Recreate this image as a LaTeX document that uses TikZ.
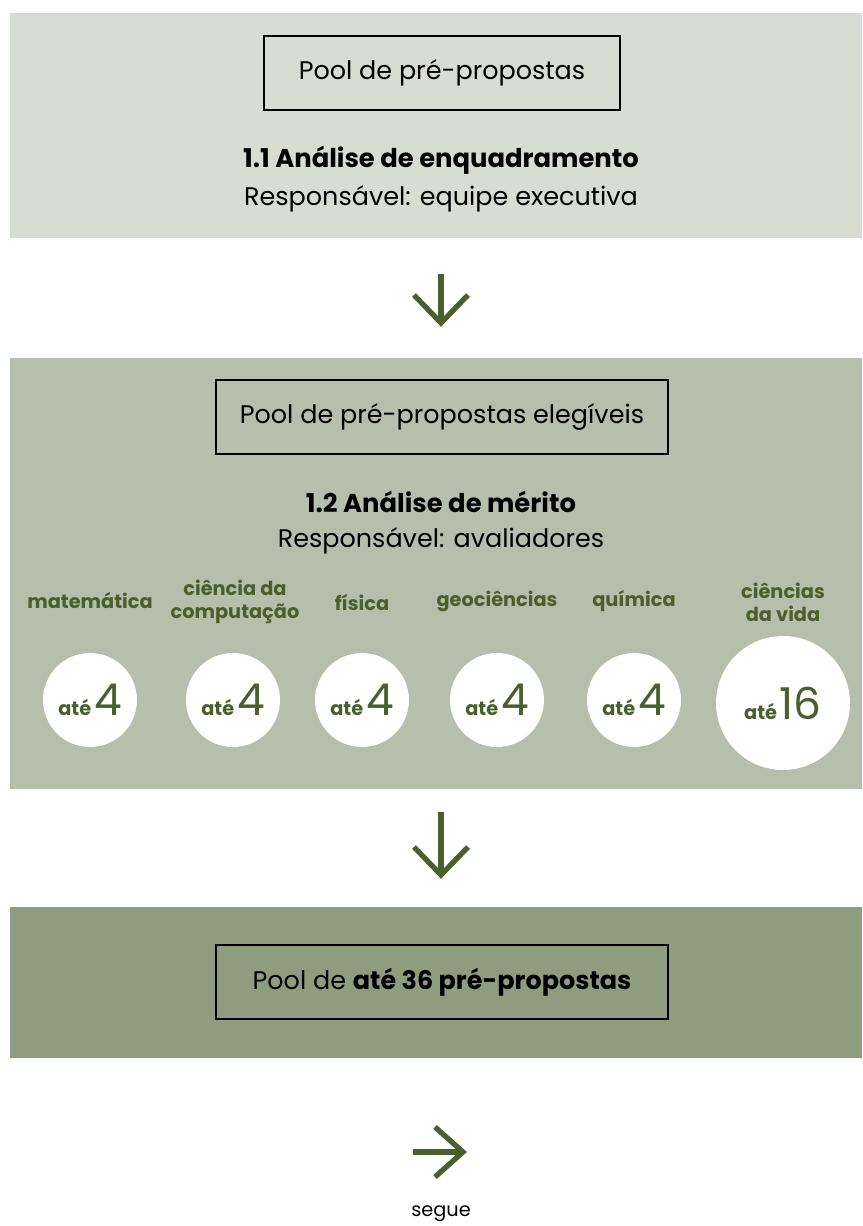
\documentclass[tikz,border=0pt]{standalone}
\usepackage{fontspec}
\setmainfont{Poppins}
\usetikzlibrary{calc}

\definecolor{faseA}{HTML}{D8DDD4}
\definecolor{faseB}{HTML}{B5BFAC}
\definecolor{faseC}{HTML}{8E9C80}
\definecolor{verde}{HTML}{4A5F2B}

\tikzset{
  pool/.style={draw, line width=1.1pt, inner sep=0pt, minimum height=1.49cm, font=\fontsize{14.5}{17}\selectfont},
  seta/.style={verde, line width=3pt, line join=miter},
  area/.style={verde, align=center, font=\fontsize{11}{13}\selectfont\bfseries},
  vaga/.style={circle, fill=white, inner sep=0pt, minimum size=1.88cm},
}

\newcommand{\ate}[1]{{\fontsize{11}{12}\selectfont\bfseries até}\,{\fontsize{25}{25}\selectfont #1}}

\begin{document}
\begin{tikzpicture}[x=0.02cm, y=-0.02cm]
			\useasboundingbox (0,0) rectangle (862,1226);

			% fases
			\fill[faseA] (10,13) rectangle (862,238);
			\fill[faseB] (10,358) rectangle (862,789);
			\fill[faseC] (10,907) rectangle (862,1058);

			\node[pool, minimum width=7.12cm] (p1) at (442,73) {Pool de pré-propostas};
			\node[font=\fontsize{14.7}{17}\selectfont\bfseries] (t1) at (441,160) {1.1 Análise de enquadramento};
			\node[font=\fontsize{14.5}{17}\selectfont] (r1) at (441,199) {Responsável: equipe executiva};

			\node[pool, minimum width=9.04cm] (p2) at (442,417) {Pool de pré-propostas elegíveis};
			\node[font=\fontsize{14.7}{17}\selectfont\bfseries] (t2) at (441,502) {1.2 Análise de mérito};
			\node[font=\fontsize{14.5}{17}\selectfont] (r2) at (441,541) {Responsável: avaliadores};

			\begin{scope}[every node/.style={area}]
				\node (m) at (90,601) {matemática};
				\node (cc) at (235,602) {ciência da\\computação};
				\node (f) at (362,603) {física};
				\node (g) at (497,601) {geociências};
				\node (q) at (634,601) {química};
				\node (cv) at (783,602) {ciências\\da vida};
			\end{scope}

			\begin{scope}[every node/.style={vaga, text=verde}]
				\node (vm) at (90,700) {\ate{4}};
				\node (vcc) at (233,700) {\ate{4}};
				\node (vf) at (362,700) {\ate{4}};
				\node (vg) at (497,700) {\ate{4}};
				\node (vq) at (634,700) {\ate{4}};
				\node[minimum size=2.68cm] (vcv) at (783,703) {\ate{16}};
			\end{scope}

			\node[pool, minimum width=9.04cm] (p3) at (442,982) {Pool de \textbf{até 36 pré-propostas}};

			% setas
			\coordinate (a1) at (441,274);
			\coordinate (b1) at (441,323);
			\coordinate (a2) at (441,812);
			\coordinate (b2) at (441,875);
			\coordinate (a3) at (413,1152);
			\coordinate (b3) at (463,1152);
			\draw[seta] (a1) -- (b1);
			\draw[seta] ($(b1)+(-27,-28)$) -- (b1) -- ($(b1)+(27,-28)$);
			\draw[seta] (a2) -- (b2);
			\draw[seta] ($(b2)+(-27,-28)$) -- (b2) -- ($(b2)+(27,-28)$);
			\draw[seta] (a3) -- (b3);
			\draw[seta] ($(b3)+(-28,-25)$) -- (b3) -- ($(b3)+(-28,25)$);

			\node[font=\fontsize{11}{13}\selectfont] (s) at (441,1214) {segue};
		\end{tikzpicture}
\end{document}
